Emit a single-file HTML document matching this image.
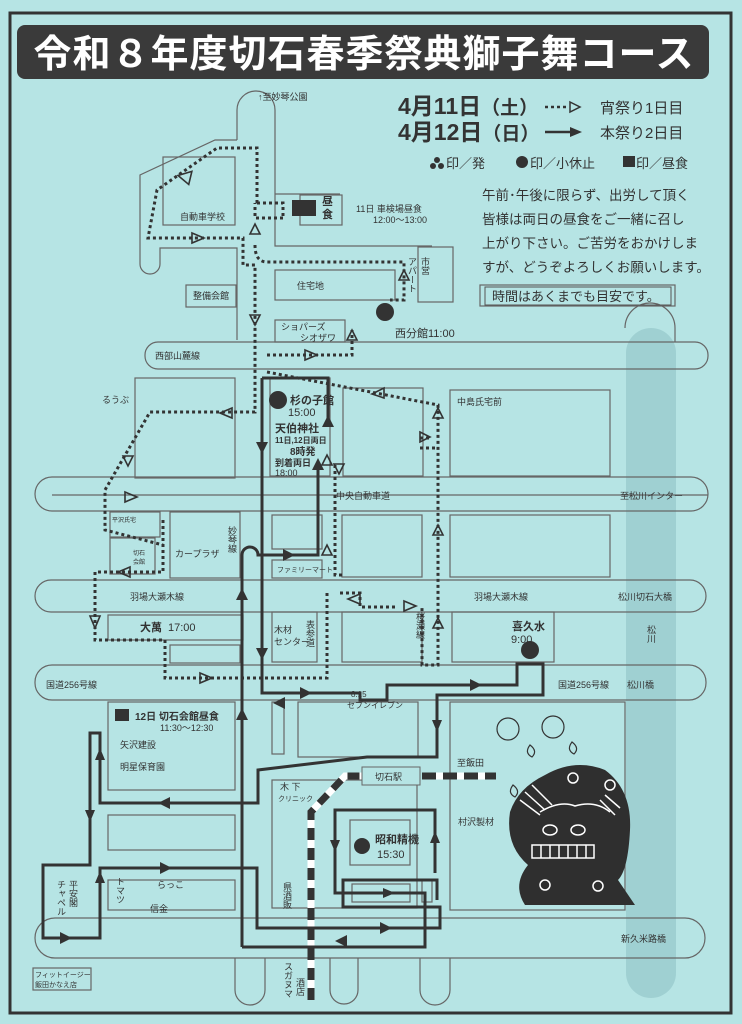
<!DOCTYPE html>
<html><head><meta charset="utf-8"><style>
html,body{margin:0;padding:0;background:#b6e4e4;}
svg{display:block}
text{font-family:"Liberation Sans","Noto Sans CJK JP",sans-serif;fill:#333}
</style></head><body>
<svg width="742" height="1024" viewBox="0 0 742 1024" xmlns="http://www.w3.org/2000/svg">
<rect width="742" height="1024" fill="#b6e4e4"/>
<!-- river -->
<rect x="626" y="328" width="50" height="670" rx="25" fill="#9fd0d2"/>
<!-- frame -->
<rect x="10" y="13" width="721" height="1000" fill="none" stroke="#333" stroke-width="3"/>
<rect x="17" y="25" width="692" height="54" rx="8" fill="#3a3a3a"/>
<text x="364" y="67" text-anchor="middle" font-size="38" font-weight="bold" style="fill:#fff" letter-spacing="1">令和８年度切石春季祭典獅子舞コース</text>

<g fill="none" stroke="#666" stroke-width="1.2">
<rect x="145" y="342" width="563" height="27" rx="13"/>
<rect x="35" y="477" width="673" height="34" rx="17"/>
<line x1="52" y1="495" x2="708" y2="495"/>
<rect x="35" y="580" width="671" height="32" rx="16"/>
<rect x="35" y="665" width="671" height="35" rx="17"/>
<rect x="35" y="918" width="670" height="40" rx="20"/>
<path d="M237,140 V110 a19,19 0 0 1 38,0 V194 H340 M275,194 V246 H432 M140,245 V175 L215,140 H237 M140,245 V264 a10,10 0 0 0 20,0 V248 H237 V340"/>
<rect x="163" y="157" width="72" height="68"/>
<rect x="186" y="285" width="50" height="22"/>
<rect x="275" y="270" width="120" height="30"/>
<rect x="275" y="320" width="70" height="22"/>
<rect x="418" y="247" width="35" height="55"/>
<rect x="300" y="195" width="42" height="30"/>
<rect x="480" y="285" width="195" height="21"/>
<rect x="135" y="378" width="100" height="100"/>
<rect x="270" y="378" width="60" height="98"/>
<rect x="343" y="388" width="80" height="88"/>
<rect x="450" y="390" width="160" height="86"/>
<rect x="110" y="512" width="50" height="25"/>
<rect x="110" y="538" width="45" height="36"/>
<rect x="170" y="512" width="70" height="66"/>
<rect x="272" y="515" width="50" height="34"/>
<rect x="272" y="560" width="50" height="18"/>
<rect x="342" y="515" width="80" height="62"/>
<rect x="450" y="515" width="160" height="62"/>
<rect x="108" y="615" width="135" height="25"/>
<rect x="170" y="645" width="70" height="18"/>
<rect x="272" y="612" width="45" height="50"/>
<rect x="342" y="612" width="80" height="50"/>
<rect x="452" y="612" width="102" height="50"/>
<rect x="108" y="702" width="127" height="88"/>
<rect x="108" y="815" width="127" height="35"/>
<rect x="108" y="880" width="127" height="30"/>
<rect x="272" y="702" width="12" height="52"/>
<rect x="298" y="702" width="120" height="55"/>
<rect x="272" y="780" width="145" height="128"/>
<rect x="350" y="820" width="60" height="45"/>
<rect x="352" y="884" width="58" height="18"/>
<rect x="450" y="702" width="175" height="208"/>
<rect x="33" y="968" width="58" height="22"/>
<rect x="422" y="880" width="10" height="22"/>
<path d="M235,958 V990 a15,15 0 0 0 30,0 V958 M330,958 V990 a14,14 0 0 0 28,0 V958 M420,958 V990 a15,15 0 0 0 30,0 V958"/>
<path d="M625,328 a25,25 0 0 1 50,0 V342"/>
</g>
<g stroke-width="7" fill="none">
<path d="M311,1000 V812 L345,776 H362" stroke="#fff"/>
<path d="M311,1000 V812 L345,776 H362" stroke="#333" stroke-dasharray="12 8"/>
<path d="M422,776 H496" stroke="#fff"/>
<path d="M422,776 H496" stroke="#333" stroke-dasharray="14 7"/>
</g>
<rect x="362" y="767" width="58" height="18" fill="#b6e4e4" stroke="#666"/>

<g fill="none" stroke="#333" stroke-width="3">
<path d="M262,378 H328 V427"/>
<path d="M262,378 V693 H360 V700 H387 V685 H517 V664 H543 V695 H437 V757 H367 L258,770 V803 H100 V733 H90 V865 H43 V938 H100 V868 H257 V928 H440 V907 H343 V880 H437 V900"/>
<path d="M242,947 V555 a8,8 0 0 1 16,0 H318 V462"/>
<path d="M242,947 H425 V893 H335 V810 H435 V873"/>
</g>
<g fill="#333">
<polygon points="322,427 334,427 328,415"/>
<polygon points="312,470 324,470 318,458"/>
<polygon points="256,442 268,442 262,454"/>
<polygon points="256,648 268,648 262,660"/>
<polygon points="236,600 248,600 242,588"/>
<polygon points="236,720 248,720 242,708"/>
<polygon points="283,549 295,555 283,561"/>
<polygon points="300,687 312,693 300,699"/>
<polygon points="470,679 482,685 470,691"/>
<polygon points="285,697 273,703 285,709"/>
<polygon points="432,720 442,720 437,732"/>
<polygon points="170,797 158,803 170,809"/>
<polygon points="95,760 105,760 100,748"/>
<polygon points="85,810 95,810 90,822"/>
<polygon points="60,932 72,938 60,944"/>
<polygon points="95,883 105,883 100,871"/>
<polygon points="160,862 172,868 160,874"/>
<polygon points="380,922 392,928 380,934"/>
<polygon points="347,947 335,941 347,935"/>
<polygon points="383,888 395,893 383,898"/>
<polygon points="330,840 340,840 335,852"/>
<polygon points="430,843 440,843 435,831"/>
<circle cx="530" cy="650" r="9"/>
<circle cx="362" cy="846" r="8"/>
<circle cx="278" cy="400" r="9"/>
<circle cx="385" cy="312" r="9"/>
<rect x="292" y="200" width="24" height="16"/>
<rect x="115" y="709" width="14" height="12"/>
</g>

<g fill="none" stroke="#333" stroke-width="3" stroke-dasharray="3 3">
<path d="M283,218 H255 V203 M257,203 V148 H217 L157,190 L148,238 H243 V265 H255 V412 H150 L105,490 V530 L163,545 M163,520 V572 H95 V640 H165 V678 H327 V593 M340,593 H360 V607 H395"/>
<path d="M257,203 H283 V218"/>
<path d="M255,245 Q255,262 267,262 H404 V300 H390"/>
<path d="M267,355 H352 V330 M267,372 L438,405 V665 H422 V607"/>
<path d="M335,465 V575 H345 M420,438 H430 M420,448 H438"/>
</g>
<g fill="none" stroke="#333" stroke-width="1.6">
<polygon points="188,170 180,182 194,182" transform="rotate(40 188 176)"/>
<polygon points="192,233 204,238 192,243"/>
<polygon points="250,234 260,234 255,224"/>
<polygon points="250,315 260,315 255,325"/>
<polygon points="305,350 317,355 305,360"/>
<polygon points="347,340 357,340 352,330"/>
<polygon points="399,280 409,280 404,270"/>
<polygon points="232,408 220,413 232,418"/>
<polygon points="372,394 384,388 384,398"/>
<polygon points="433,418 443,418 438,408"/>
<polygon points="433,535 443,535 438,525"/>
<polygon points="433,628 443,628 438,618"/>
<polygon points="133,456 123,456 128,466"/>
<polygon points="125,492 137,497 125,502"/>
<polygon points="130,567 118,572 130,577"/>
<polygon points="90,616 100,616 95,628"/>
<polygon points="200,673 212,678 200,683"/>
<polygon points="322,555 332,555 327,545"/>
<polygon points="322,465 332,465 327,455"/>
<polygon points="334,464 344,464 339,474"/>
<polygon points="360,594 348,599 360,604"/>
<polygon points="404,601 416,606 404,611"/>
<polygon points="420,432 430,437 420,442"/>
</g>

<g font-size="9">
<text x="258" y="100">↑至妙琴公園</text>
<text x="180" y="220">自動車学校</text>
<text x="193" y="299">整備会館</text>
<text x="297" y="289">住宅地</text>
<text x="281" y="330">ショパーズ</text>
<text x="300" y="341">シオザワ</text>
<text x="155" y="359">西部山麓線</text>
<text x="102" y="403">るうぶ</text>
<text x="457" y="405">中島氏宅前</text>
<text x="336" y="499">中央自動車道</text>
<text x="620" y="499">至松川インター</text>
<text x="175" y="557">カープラザ</text>
<text x="277" y="572" font-size="7">ファミリーマート</text>
<text x="130" y="600">羽場大瀬木線</text>
<text x="474" y="600">羽場大瀬木線</text>
<text x="618" y="600">松川切石大橋</text>
<text x="46" y="688">国道256号線</text>
<text x="558" y="688">国道256号線</text>
<text x="627" y="688">松川橋</text>
<text x="274" y="633">木材</text>
<text x="274" y="645">センター</text>
<text x="120" y="748">矢沢建設</text>
<text x="120" y="770">明星保育園</text>
<text x="157" y="888">らっこ</text>
<text x="150" y="912">信金</text>
<text x="457" y="766">至飯田</text>
<text x="458" y="825">村沢製材</text>
<text x="621" y="942">新久米路橋</text>
<text x="375" y="780">切石駅</text>
<text x="280" y="790">木 下</text>
<text x="278" y="801" font-size="7">クリニック</text>
<text x="351" y="697" font-size="8">8:15</text>
<text x="347" y="708" font-size="8">セブンイレブン</text>
<text x="35" y="977" font-size="7">フィットイージー</text>
<text x="35" y="987" font-size="7">飯田かなえ店</text>
<text x="112" y="522" font-size="6">平沢氏宅</text>
<text x="133" y="555" font-size="6">切石</text>
<text x="133" y="564" font-size="6">会館</text>
<text x="356" y="212">11日 車検場昼食</text>
<text x="373" y="223">12:00〜13:00</text>
<text x="135" y="720" font-size="10" font-weight="bold">12日  切石会館昼食</text>
<text x="160" y="731">11:30〜12:30</text>
</g>
<g font-size="9" writing-mode="tb">
<text x="425" y="257">市営</text>
<text x="412" y="257">アパート</text>
<text x="232" y="526">妙琴線</text>
<text x="310" y="620">表参道</text>
<text x="420" y="612">桜瀬線</text>
<text x="651" y="625">松川</text>
<text x="287" y="882">県酒販</text>
<text x="120" y="877">トマツ</text>
<text x="73" y="880">平安閣</text>
<text x="61" y="880">チャペル</text>
<text x="288" y="962">スガヌマ</text>
<text x="300" y="978">酒店</text>
</g>
<g font-size="11" font-weight="bold">
<text x="322" y="205">昼</text><text x="322" y="218">食</text>
<text x="290" y="404">杉の子館</text>
<text x="288" y="416" font-weight="normal">15:00</text>
<text x="275" y="432">天伯神社</text>
<text x="275" y="443" font-size="8">11日,12日両日</text>
<text x="290" y="455" font-size="10">8時発</text>
<text x="275" y="466" font-size="9">到着両日</text>
<text x="275" y="476" font-size="9" font-weight="normal">18:00</text>
<text x="395" y="337" font-weight="normal">西分館11:00</text>
<text x="140" y="631">大萬</text><text x="168" y="631" font-weight="normal">17:00</text>
<text x="512" y="630">喜久水</text>
<text x="511" y="643" font-weight="normal">9:00</text>
<text x="375" y="843">昭和精機</text>
<text x="377" y="858" font-weight="normal">15:30</text>
</g>
<g font-weight="bold">
<text x="398" y="114" font-size="23">4月11日<tspan font-size="19">（土）</tspan></text>
<text x="398" y="140" font-size="23">4月12日<tspan font-size="19">（日）</tspan></text>
</g>
<path d="M545,107 H568" stroke="#333" stroke-width="2.5" stroke-dasharray="3 3"/>
<polygon points="570,102 580,107 570,112" fill="none" stroke="#333" stroke-width="1.5"/>
<path d="M545,132 H572" stroke="#333" stroke-width="2.5"/>
<polygon points="570,127 582,132 570,137" fill="#333"/>
<g font-size="15">
<text x="600" y="113">宵祭り1日目</text>
<text x="600" y="138">本祭り2日目</text>
</g>
<g font-size="13">
<circle cx="437" cy="160" r="3" fill="#333"/><circle cx="433" cy="166" r="3" fill="#333"/><circle cx="441" cy="166" r="3" fill="#333"/>
<text x="446" y="168">印／発</text>
<circle cx="522" cy="162" r="6" fill="#333"/>
<text x="530" y="168">印／小休止</text>
<rect x="623" y="156" width="12" height="11" fill="#333"/>
<text x="636" y="168">印／昼食</text>
</g>
<g font-size="13.5">
<text x="482" y="200">午前･午後に限らず、出労して頂く</text>
<text x="482" y="224">皆様は両日の昼食をご一緒に召し</text>
<text x="482" y="248">上がり下さい。ご苦労をおかけしま</text>
<text x="482" y="272">すが、どうぞよろしくお願いします。</text>
</g>
<rect x="485" y="287" width="186" height="18" fill="none" stroke="#555"/>
<text x="492" y="301" font-size="13">時間はあくまでも目安です。</text>

<!-- lion -->
<path d="M545,775 Q575,758 605,770 Q632,790 630,830 Q628,870 618,880 L635,905 L525,905 Q512,885 528,865 Q505,845 510,812 Q518,788 545,775Z" fill="#2f2f2f"/>
<g fill="none" stroke="#fff" stroke-width="1.5">
<path d="M520,800 L540,815 M525,792 L545,810 M532,785 L552,805 M600,800 L615,815 M605,795 L620,808"/>
<path d="M540,812 Q560,800 575,806 Q595,800 610,812"/>
<rect x="532" y="845" width="62" height="13"/>
<line x1="541" y1="845" x2="541" y2="858"/><line x1="550" y1="845" x2="550" y2="858"/><line x1="559" y1="845" x2="559" y2="858"/><line x1="568" y1="845" x2="568" y2="858"/><line x1="577" y1="845" x2="577" y2="858"/><line x1="586" y1="845" x2="586" y2="858"/>
<ellipse cx="550" cy="830" rx="7" ry="5"/><ellipse cx="578" cy="830" rx="7" ry="5"/>
<circle cx="573" cy="778" r="5"/><circle cx="610" cy="785" r="5"/><circle cx="545" cy="885" r="5"/><circle cx="598" cy="886" r="5"/>
</g>
<g fill="none" stroke="#333" stroke-width="1.2">
<circle cx="508" cy="729" r="11"/><circle cx="553" cy="727" r="11"/>
<path d="M530,745 q-6,8 2,12 q6,-6 -2,-12Z M572,742 q-6,8 2,12 q6,-6 -2,-12Z M513,785 q-6,8 2,12 q6,-6 -2,-12Z"/>
</g>
</svg>
</body></html>
